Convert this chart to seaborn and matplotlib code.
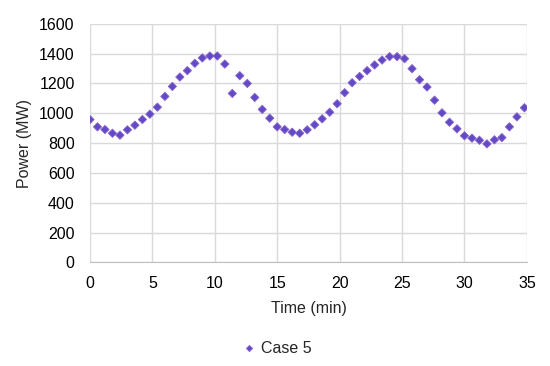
import pandas as pd
import matplotlib
matplotlib.use('Agg')
import matplotlib.pyplot as plt
import seaborn as sns

# time (min) and power (MW)
time_min = [0.0, 0.6, 1.2, 1.8, 2.4, 3.0, 3.6, 4.2, 4.8, 5.4,
            6.0, 6.6, 7.2, 7.8, 8.4, 9.0, 9.6, 10.2, 10.8, 11.4,
            12.0, 12.6, 13.2, 13.8, 14.4, 15.0, 15.6, 16.2, 16.8, 17.4,
            18.0, 18.6, 19.2, 19.8, 20.4, 21.0, 21.6, 22.2, 22.8, 23.4,
            24.0, 24.6, 25.2, 25.8, 26.4, 27.0, 27.6, 28.2, 28.8, 29.4,
            30.0, 30.6, 31.2, 31.8, 32.4, 33.0, 33.6, 34.2, 34.8]
power_mw = [958, 909, 891, 866, 853, 889, 920, 958, 994, 1041,
            1113, 1180, 1243, 1286, 1335, 1371, 1384, 1384, 1330, 1133,
            1252, 1200, 1106, 1026, 967, 909, 891, 873, 866, 889,
            923, 963, 1007, 1064, 1138, 1205, 1247, 1286, 1324, 1357,
            1380, 1380, 1366, 1299, 1225, 1176, 1088, 1003, 940, 896,
            849, 833, 819, 795, 822, 837, 909, 976, 1037]
series_name = 'Case 5'

df = pd.DataFrame({'Time (min)': time_min, 'Power (MW)': power_mw, 'series': series_name})

sns.set_style('white')
plt.rcParams['font.family'] = ['Liberation Sans', 'DejaVu Sans']

fig = plt.figure(figsize=(5.5, 3.66), dpi=100)
ax = fig.add_axes([0.1636, 0.283, 0.7944, 0.652])

sns.scatterplot(data=df, x='Time (min)', y='Power (MW)', hue='series',
                palette=['#5e4cc6'], marker='D', s=18, edgecolor='#9060cc',
                linewidth=0.6, ax=ax, zorder=3)

ax.set_xlim(0, 35)
ax.set_ylim(0, 1600)
ax.set_xticks(range(0, 36, 5))
ax.set_yticks(range(0, 1601, 200))
ax.grid(True, color='#d9d9d9', linewidth=1)
for s in ['top', 'right', 'left']:
    ax.spines[s].set_visible(False)
ax.spines['bottom'].set_color('#bfbfbf')
ax.tick_params(axis='y', length=0, labelsize=11.5, colors='#000000', pad=11)
ax.tick_params(axis='x', length=0, labelsize=11.5, colors='#000000', pad=10)
ax.set_xlabel('Time (min)', fontsize=11.5, labelpad=7)
ax.set_ylabel('Power (MW)', fontsize=11.5, labelpad=5)

ax.legend(loc='upper center', bbox_to_anchor=(0.43, -0.27), frameon=False,
          fontsize=11.5, handlelength=0.6, handletextpad=0.4, markerscale=0.75)

fig.savefig('out.png', dpi=100)
